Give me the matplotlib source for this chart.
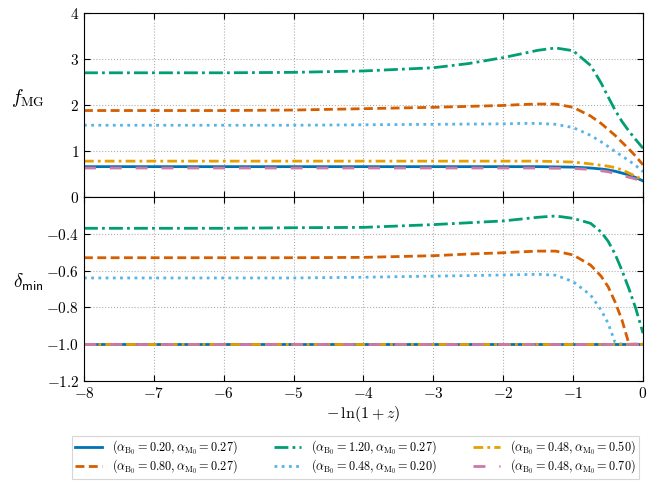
import numpy as np
import matplotlib
matplotlib.use('Agg')
import matplotlib.pyplot as plt

plt.rcParams['font.family'] = 'serif'
plt.rcParams['font.serif'] = ['cmr10', 'DejaVu Serif']
plt.rcParams['mathtext.fontset'] = 'cm'
plt.rcParams['axes.formatter.use_mathtext'] = True
plt.rcParams['axes.unicode_minus'] = True

# x = -ln(1+z)
x = [-8, -7, -6, -5, -4, -3, -2.5, -2, -1.75, -1.5, -1.25, -1,
     -0.75, -0.6, -0.5, -0.4, -0.3, -0.2, -0.1, 0]

labels = [r'$(\alpha_{\mathrm{B}_0}=0.20,\alpha_{\mathrm{M}_0}=0.27)$',
          r'$(\alpha_{\mathrm{B}_0}=0.80,\alpha_{\mathrm{M}_0}=0.27)$',
          r'$(\alpha_{\mathrm{B}_0}=1.20,\alpha_{\mathrm{M}_0}=0.27)$',
          r'$(\alpha_{\mathrm{B}_0}=0.48,\alpha_{\mathrm{M}_0}=0.20)$',
          r'$(\alpha_{\mathrm{B}_0}=0.48,\alpha_{\mathrm{M}_0}=0.50)$',
          r'$(\alpha_{\mathrm{B}_0}=0.48,\alpha_{\mathrm{M}_0}=0.70)$']

# f_MG
f_b020_m027 = [0.66, 0.66, 0.66, 0.66, 0.66, 0.66, 0.66, 0.66, 0.66, 0.66, 0.655, 0.65,
               0.63, 0.61, 0.59, 0.56, 0.52, 0.48, 0.42, 0.35]
f_b080_m027 = [1.88, 1.88, 1.88, 1.89, 1.92, 1.95, 1.97, 1.99, 2.01, 2.02, 2.02, 1.95,
               1.76, 1.60, 1.47, 1.34, 1.19, 1.04, 0.88, 0.70]
f_b120_m027 = [2.70, 2.70, 2.70, 2.71, 2.74, 2.81, 2.90, 3.03, 3.11, 3.19, 3.24, 3.18,
               2.86, 2.48, 2.18, 1.89, 1.64, 1.43, 1.24, 1.06]
f_b048_m020 = [1.56, 1.56, 1.56, 1.56, 1.57, 1.58, 1.585, 1.59, 1.60, 1.60, 1.58, 1.51,
               1.34, 1.20, 1.10, 0.99, 0.89, 0.79, 0.68, 0.55]
f_b048_m050 = [0.78, 0.78, 0.78, 0.78, 0.78, 0.78, 0.78, 0.78, 0.78, 0.78, 0.77, 0.76,
               0.72, 0.69, 0.67, 0.64, 0.59, 0.52, 0.45, 0.37]
f_b048_m070 = [0.63, 0.63, 0.63, 0.63, 0.63, 0.63, 0.63, 0.63, 0.63, 0.63, 0.625, 0.62,
               0.60, 0.57, 0.55, 0.51, 0.47, 0.43, 0.39, 0.32]

# delta_min
d_b020_m027 = [-1.0] * 20
d_b080_m027 = [-0.53, -0.53, -0.53, -0.53, -0.528, -0.519, -0.51, -0.503, -0.498, -0.494, -0.494, -0.515,
               -0.57, -0.63, -0.687, -0.77, -0.87, -1.0, -1.0, -1.0]
d_b120_m027 = [-0.37, -0.37, -0.37, -0.367, -0.365, -0.35, -0.34, -0.33, -0.32, -0.31, -0.303, -0.316,
               -0.343, -0.39, -0.44, -0.51, -0.60, -0.70, -0.81, -0.94]
d_b048_m020 = [-0.64, -0.64, -0.64, -0.64, -0.636, -0.63, -0.627, -0.624, -0.622, -0.62, -0.625, -0.66,
               -0.733, -0.814, -0.886, -0.99, -1.0, -1.0, -1.0, -1.0]
d_b048_m050 = [-1.0] * 20
d_b048_m070 = [-1.0] * 20

f_all = [f_b020_m027, f_b080_m027, f_b120_m027, f_b048_m020, f_b048_m050, f_b048_m070]
d_all = [d_b020_m027, d_b080_m027, d_b120_m027, d_b048_m020, d_b048_m050, d_b048_m070]

colors = ['#0072B2', '#D55E00', '#009E73', '#56B4E9', '#E69F00', '#CC79A7']
styles = ['-', (0, (3.2, 1.6)), (0, (5, 1.5, 1, 1.5)), (0, (1, 1.6)),
          (0, (3.5, 1.5, 1, 1.5)), (0, (4.3, 5))]

fig = plt.figure(figsize=(6.52, 4.83), dpi=100)
ax1 = fig.add_axes([0.1288, 0.5921, 0.8574, 0.3810])
ax2 = fig.add_axes([0.1288, 0.2112, 0.8574, 0.3809])

handles = []
for f, d, c, ls, lab in zip(f_all, d_all, colors, styles, labels):
    h, = ax1.plot(x, f, color=c, linestyle=ls, lw=2, label=lab)
    ax2.plot(x, d, color=c, linestyle=ls, lw=2)
    handles.append(h)

ax1.set_xlim(-8, 0)
ax1.set_ylim(0, 4)
ax1.set_yticks([0, 1, 2, 3, 4])
ax1.set_xticks(range(-8, 1))
ax1.tick_params(labelbottom=False)
ax1.set_ylabel(r'$f_{\mathrm{MG}}$', rotation=0, fontsize=14, va='center', ha='center')
ax1.yaxis.set_label_coords(-0.100, 0.54)

ax2.set_xlim(-8, 0)
ax2.set_ylim(-1.2, -0.2)
ax2.set_yticks([-1.2, -1.0, -0.8, -0.6, -0.4])
ax2.set_yticklabels([r'$-1.2$', r'$-1.0$', r'$-0.8$', r'$-0.6$', r'$-0.4$'])
ax2.set_xticks(range(-8, 1))
ax2.set_ylabel(r'$\delta_{\mathsf{min}}$', rotation=0, fontsize=14, va='center', ha='center')
ax2.yaxis.set_label_coords(-0.100, 0.534)
ax2.set_xlabel(r'$-\,\ln(1+z)$', fontsize=11.5, labelpad=2)

for ax in (ax1, ax2):
    ax.grid(True, linestyle=':', color='#b0b0b0', lw=0.8)
    ax.tick_params(direction='in', top=True, right=True, labelsize=11, length=4)
    ax.set_axisbelow(True)

leg = fig.legend(handles=handles, loc='lower center', bbox_to_anchor=(0.545, -0.004),
                 ncol=3, fontsize=8.8, frameon=True, fancybox=False,
                 edgecolor='#cccccc', handlelength=2.2, columnspacing=3.0,
                 labelspacing=0.05, borderpad=0.25, handletextpad=0.8)
leg.get_frame().set_linewidth(0.8)

fig.savefig('out.png', dpi=100)
